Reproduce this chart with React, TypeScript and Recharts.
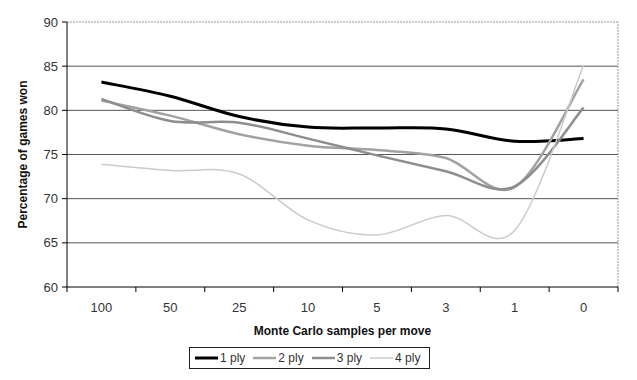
import React from "react";
import { LineChart, Line, XAxis, YAxis, ReferenceLine, Legend, Label } from "recharts";

const categories = ["100", "50", "25", "10", "5", "3", "1", "0"];
const ply1 = [83.2, 81.6, 79.3, 78.1, 78.0, 77.9, 76.5, 76.8];
const ply2 = [81.1, 79.4, 77.3, 76.0, 75.5, 74.6, 71.3, 83.5];
const ply3 = [81.3, 78.8, 78.6, 76.8, 74.9, 73.1, 71.4, 80.3];
const ply4 = [73.9, 73.2, 72.8, 67.6, 65.9, 68.1, 66.4, 85.1];
const yTicks = [60, 65, 70, 75, 80, 85, 90];
const gridValues = [65, 70, 75, 80, 85];

const series = [
  { key: "p1", name: "1 ply", color: "#000000", width: 3 },
  { key: "p2", name: "2 ply", color: "#a2a2a2", width: 2.5 },
  { key: "p3", name: "3 ply", color: "#8e8e8e", width: 2.5 },
  { key: "p4", name: "4 ply", color: "#cbcbcb", width: 1.5 },
];

// slot centres sit halfway between the category boundaries
const data = categories.map((c, i) => ({
  pos: i + 0.5,
  label: c,
  p1: ply1[i],
  p2: ply2[i],
  p3: ply3[i],
  p4: ply4[i],
}));
const xTicks = Array.from({ length: categories.length * 2 + 1 }, (_, i) => i / 2);

const font = "'Liberation Sans', Arial, sans-serif";

// Excel-like smoothing (Catmull-Rom through the points)
function smooth(context: any) {
  let pts: number[][] = [];
  return {
    areaStart() {},
    areaEnd() {},
    lineStart() {
      pts = [];
    },
    lineEnd() {
      if (!pts.length) return;
      context.moveTo(pts[0][0], pts[0][1]);
      for (let i = 0; i < pts.length - 1; i++) {
        const p0 = pts[Math.max(i - 1, 0)];
        const p1 = pts[i];
        const p2 = pts[i + 1];
        const p3 = pts[Math.min(i + 2, pts.length - 1)];
        context.bezierCurveTo(
          p1[0] + (p2[0] - p0[0]) / 6,
          p1[1] + (p2[1] - p0[1]) / 6,
          p2[0] - (p3[0] - p1[0]) / 6,
          p2[1] - (p3[1] - p1[1]) / 6,
          p2[0],
          p2[1]
        );
      }
    },
    point(x: number, y: number) {
      pts.push([+x, +y]);
    },
  };
}

const XTick = (props: any) => {
  const { x, y, payload } = props;
  const v = payload.value;
  if (Number.isInteger(v)) {
    return <line x1={x} x2={x} y1={y} y2={y + 5} stroke="#000" />;
  }
  return (
    <text x={x} y={y + 25} textAnchor="middle" fontSize={13} fill="#333" fontFamily={font}>
      {categories[Math.floor(v)]}
    </text>
  );
};

const LegendBox = () => (
  <div
    style={{
      border: "1px solid #222",
      height: 22,
      display: "flex",
      alignItems: "center",
      paddingLeft: 5,
      fontFamily: font,
      fontSize: 12,
      color: "#333",
      boxSizing: "border-box",
    }}
  >
    {series.map((s) => (
      <span key={s.key} style={{ display: "flex", alignItems: "center", marginRight: 8 }}>
        <svg width={23} height={6} style={{ marginRight: 2 }}>
          <line x1={0} x2={23} y1={3} y2={3} stroke={s.color} strokeWidth={s.width} />
        </svg>
        <span>{s.name}</span>
      </span>
    ))}
  </div>
);

export default function App() {
  return (
    <div style={{ position: "absolute", left: 0, top: 0, background: "#fff" }}>
      <LineChart width={637} height={380} data={data} margin={{ top: 22, right: 19, left: 0, bottom: 11 }}>
        <XAxis
          dataKey="pos"
          type="number"
          domain={[0, categories.length]}
          ticks={xTicks}
          interval={0}
          tickSize={0}
          tickMargin={0}
          tickLine={false}
          tick={<XTick />}
          axisLine={{ stroke: "#000" }}
          height={60}
        >
          <Label
            content={(p: any) => {
              const vb = p.viewBox;
              return (
                <text
                  x={vb.x + vb.width / 2}
                  y={vb.y + 48}
                  textAnchor="middle"
                  fontSize={12}
                  fontWeight="bold"
                  fill="#111"
                  fontFamily={font}
                >
                  Monte Carlo samples per move
                </text>
              );
            }}
          />
        </XAxis>
        <YAxis
          domain={[60, 90]}
          ticks={yTicks}
          width={67}
          tickSize={5}
          tickMargin={4}
          axisLine={{ stroke: "#000" }}
          tickLine={{ stroke: "#000" }}
          tick={{ fontSize: 13, fill: "#333", fontFamily: font }}
        >
          <Label
            content={(p: any) => {
              const vb = p.viewBox;
              const cx = vb.x + 23;
              const cy = vb.y + vb.height / 2;
              return (
                <text
                  x={cx}
                  y={cy}
                  transform={`rotate(-90 ${cx} ${cy})`}
                  textAnchor="middle"
                  dominantBaseline="central"
                  fontSize={12}
                  fontWeight="bold"
                  fill="#111"
                  fontFamily={font}
                >
                  Percentage of games won
                </text>
              );
            }}
          />
        </YAxis>
        {gridValues.map((v) => (
          <ReferenceLine key={v} y={v} stroke="#555" strokeWidth={1} />
        ))}
        <ReferenceLine y={90} stroke="#999" strokeDasharray="2 1" />
        <ReferenceLine x={categories.length} stroke="#999" strokeDasharray="2 1" />
        {series.map((s) => (
          <Line
            key={s.key}
            dataKey={s.key}
            name={s.name}
            type={smooth as any}
            stroke={s.color}
            strokeWidth={s.width}
            dot={false}
            activeDot={false}
            isAnimationActive={false}
          />
        ))}
        <Legend
          verticalAlign="bottom"
          content={<LegendBox />}
          wrapperStyle={{ left: 189, width: 241, bottom: 11 }}
        />
      </LineChart>
    </div>
  );
}
